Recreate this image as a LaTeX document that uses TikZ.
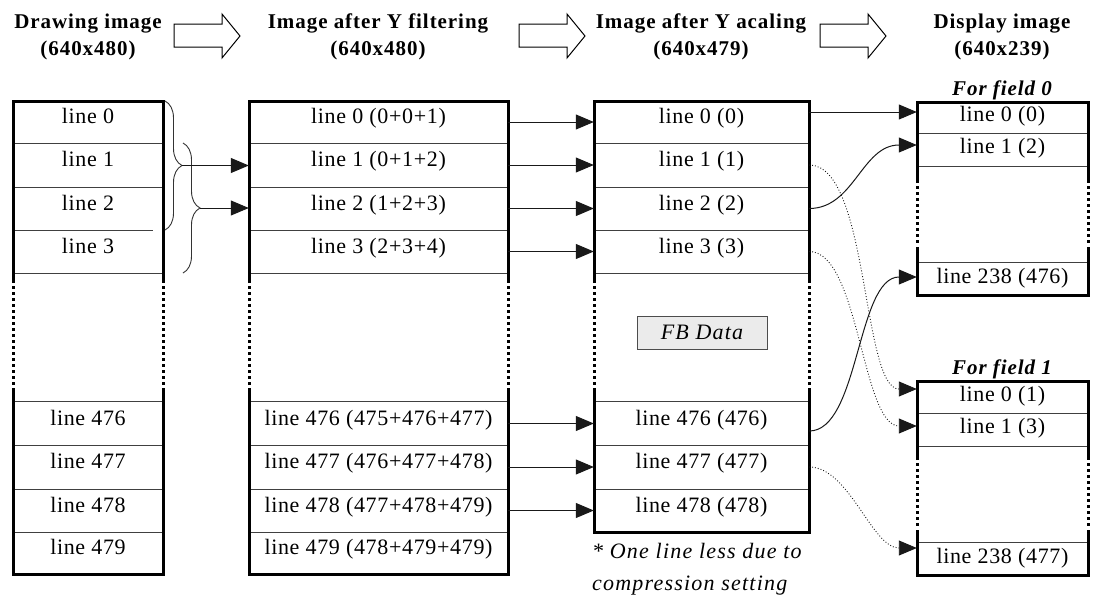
\documentclass[tikz,border=0pt]{standalone}
\usepackage{fontspec}
\setmainfont{Liberation Serif}
\newfontfamily\bodyf[LetterSpace=3]{Liberation Serif}
\newfontfamily\headf[LetterSpace=4.5]{Liberation Serif}
\newfontfamily\notef[LetterSpace=5.5]{Liberation Serif}
\usetikzlibrary{arrows.meta,decorations.pathreplacing,calc}
\newcommand\rowbox[7][]{\node[rowbase,#1,minimum width={(#4-#3)*1pt},minimum height={(#6-#5)*1pt}] (#2) at ({(#3+#4)/2},{(#5+#6)/2}) {#7};}
\begin{document}
\begin{tikzpicture}[x=1pt,y=-1pt,
 rowbase/.style={inner sep=0pt,text height=15pt,text depth=12pt,font=\bodyf\fontsize{22}{26}\selectfont},
 smallrow/.style={text depth=7pt},
 bord/.style={line width=3pt},
 sepl/.style={line width=1pt,black!75},
 dside/.style={line width=3pt,dash pattern=on 3pt off 3pt},
 arr/.style={line width=1pt,black!90,-{Triangle[length=18pt,width=15pt]}},
 darr/.style={line width=0.9pt,black!90,dotted,-{Triangle[length=18pt,width=15pt]}},
 brc/.style={decorate,decoration={brace,amplitude=17pt},line width=0.9pt,black!80},
 blk/.style={line width=1pt,line join=miter},
 head/.style={font=\headf\bfseries\fontsize{21}{25}\selectfont,anchor=base,inner sep=0pt},
 fld/.style={font=\headf\bfseries\itshape\fontsize{21}{25}\selectfont,anchor=base,inner sep=0pt},
 note/.style={font=\notef\itshape\fontsize{22}{26}\selectfont,anchor=base west,inner sep=0pt},
 fbbox/.style={draw=black!70,fill=black!8,line width=0.8pt,minimum width=130pt,minimum height=33pt,inner sep=0pt,font=\notef\itshape\fontsize{22}{26}\selectfont}]
\useasboundingbox (0,0) rectangle (1093,603);

% headers
\node[head] (h1a) at (88,28) {Drawing image};
\node[head] (h1b) at (88,55) {(640x480)};
\node[head] (h2a) at (378,28) {Image after Y filtering};
\node[head] (h2b) at (378,55) {(640x480)};
\node[head] (h3a) at (701,28) {Image after Y acaling};
\node[head] (h3b) at (701,55) {(640x479)};
\node[head] (h4a) at (1002,28) {Display image};
\node[head] (h4b) at (1002,55) {(640x239)};
\foreach \dx in {0,345,646}
  \draw[blk,shift={(\dx,0)}] (174,24) -- (222,24) -- (222,14) -- (240,36) -- (222,58) -- (222,47) -- (174,47) -- cycle;

% column 1
\rowbox{c1a}{13}{163}{101}{143}{line 0}
\rowbox{c1b}{13}{163}{143}{187}{line 1}
\rowbox{c1c}{13}{163}{187}{230}{line 2}
\rowbox{c1d}{13}{163}{230}{273}{line 3}
\rowbox{c1e}{13}{163}{402}{445}{line 476}
\rowbox{c1f}{13}{163}{445}{489}{line 477}
\rowbox{c1g}{13}{163}{489}{532}{line 478}
\rowbox{c1h}{13}{163}{532}{574}{line 479}
% column 2
\rowbox{c2a}{249}{508}{101}{143}{line 0 (0+0+1)}
\rowbox{c2b}{249}{508}{143}{187}{line 1 (0+1+2)}
\rowbox{c2c}{249}{508}{187}{230}{line 2 (1+2+3)}
\rowbox{c2d}{249}{508}{230}{273}{line 3 (2+3+4)}
\rowbox{c2e}{249}{508}{402}{445}{line 476 (475+476+477)}
\rowbox{c2f}{249}{508}{445}{489}{line 477 (476+477+478)}
\rowbox{c2g}{249}{508}{489}{532}{line 478 (477+478+479)}
\rowbox{c2h}{249}{508}{532}{574}{line 479 (478+479+479)}
% column 3
\rowbox{c3a}{594}{809}{101}{143}{line 0 (0)}
\rowbox{c3b}{594}{809}{143}{187}{line 1 (1)}
\rowbox{c3c}{594}{809}{187}{230}{line 2 (2)}
\rowbox{c3d}{594}{809}{230}{273}{line 3 (3)}
\rowbox{c3e}{594}{809}{402}{445}{line 476 (476)}
\rowbox{c3f}{594}{809}{445}{489}{line 477 (477)}
\rowbox{c3g}{594}{809}{489}{532}{line 478 (478)}
% column 4
\rowbox[smallrow]{f0a}{917}{1088}{102}{133}{line 0 (0)}
\rowbox[smallrow]{f0b}{917}{1088}{133}{166}{line 1 (2)}
\rowbox[smallrow]{f0c}{917}{1088}{263}{295}{line 238 (476)}
\rowbox[smallrow]{f1a}{917}{1088}{381}{413}{line 0 (1)}
\rowbox[smallrow]{f1b}{917}{1088}{413}{446}{line 1 (3)}
\rowbox[smallrow]{f1c}{917}{1088}{543}{575}{line 238 (477)}

\node[fld] (fl0) at (1002,95) {For field 0};
\node[fld] (fl1) at (1002,374) {For field 1};
\node[fbbox] (fb) at (702,332.5) {FB Data};
\node[note] (n1) at (592,558) {* One line less due to};
\node[note] (n2) at (592,590) {compression setting};

% separators
\foreach \n in {c1a,c1b,c1d,c1e,c1f,c1g,c2a,c2b,c2c,c2d,c2e,c2f,c2g,c3a,c3b,c3c,c3d,c3e,c3f,f0a,f0b,f1a,f1b}
  \draw[sepl] (\n.south west) -- (\n.south east);
\foreach \n in {c1e,c2e,c3e,f0c,f1c}
  \draw[sepl] (\n.north west) -- (\n.north east);
\draw[sepl] (c1c.south west) -- ++(140,0);

% outlines
\draw[bord] (13,283) |- (163,101) -- (163,283);
\draw[dside] (13,286) -- (13,388) (163,286) -- (163,388);
\draw[bord] (13,388) |- (163,574) -- (163,388);
\draw[bord] (249,283) |- (508,101) -- (508,283);
\draw[dside] (249,286) -- (249,388) (508,286) -- (508,388);
\draw[bord] (249,388) |- (508,574) -- (508,388);
\draw[bord] (594,283) |- (809,101) -- (809,283);
\draw[dside] (594,286) -- (594,388) (809,286) -- (809,388);
\draw[bord] (594,388) |- (809,532) -- (809,388);
\draw[bord] (917,183) |- (1088,102) -- (1088,183);
\draw[dside] (917,186) -- (917,245) (1088,186) -- (1088,245);
\draw[bord] (917,247) |- (1088,295) -- (1088,247);
\draw[bord] (917,460) |- (1088,381) -- (1088,460);
\draw[dside] (917,463) -- (917,528) (1088,463) -- (1088,528);
\draw[bord] (917,530) |- (1088,575) -- (1088,530);

% braces
\draw[brc] (165,101) -- (165,230);
\draw[brc] (183,143) -- (183,273);
\coordinate (b1) at (182,165.5);
\coordinate (b2) at (200,208);
\draw[arr] (b1) -- (b1 -| c2b.west);
\draw[arr] (b2) -- (b2 -| c2c.west);

% col2 -> col3
\foreach \r in {a,b,c,d,e,f,g}
  \draw[arr] (c2\r.east) -- (c3\r.west);

% col3 -> col4
\coordinate (s0) at ([yshift=10pt]c3a.east);
\draw[arr] (s0) -- (s0 -| f0a.west);
\draw[arr] (c3c.east) .. controls +(45,0) and +(-55,0) .. ([yshift=4.5pt]f0b.west);
\draw[arr] ([yshift=-7.5pt]c3e.east) .. controls +(50,0) and +(-60,0) .. ([yshift=2pt]f0c.west);
\draw[darr] (c3b.east) .. controls +(60,0) and +(-55,0) .. ([yshift=8pt]f1a.west);
\draw[darr] (c3d.east) .. controls +(50,0) and +(-55,0) .. ([yshift=3.5pt]f1b.west);
\draw[darr] (c3f.east) .. controls +(40,0) and +(-45,0) .. ([yshift=11pt]f1c.west);
\end{tikzpicture}
\end{document}
